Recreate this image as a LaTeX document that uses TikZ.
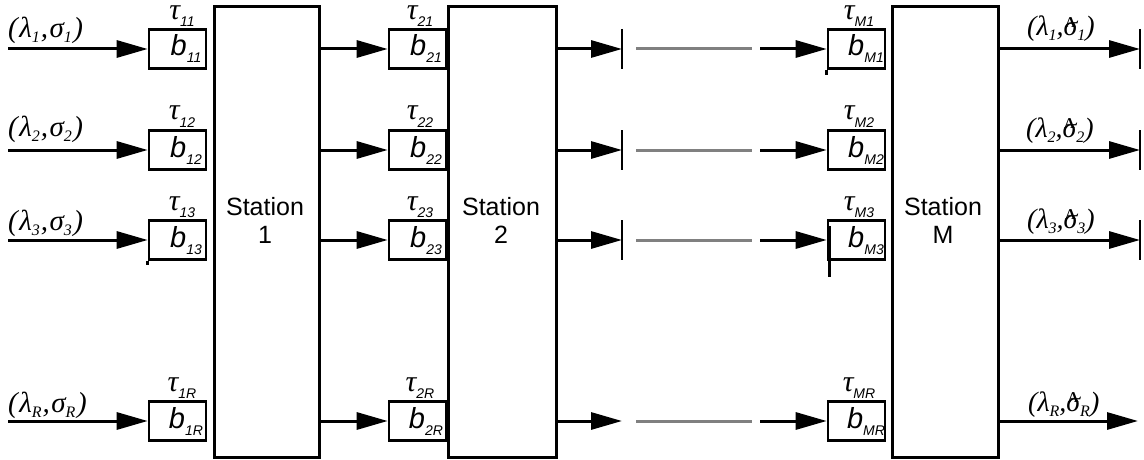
\documentclass[tikz,border=0pt]{standalone}
\usepackage{fontspec}
\setmainfont{Liberation Sans}
\newfontfamily\gr{Liberation Serif}
\usetikzlibrary{arrows.meta}
\newcommand{\bsub}[1]{{\fontsize{29}{29}\selectfont\itshape b}\raisebox{-7pt}{\fontsize{14}{14}\selectfont\itshape #1}}
\newcommand{\tsub}[1]{\raisebox{0pt}[14pt][0pt]{{\gr\fontsize{30}{30}\selectfont\itshape τ}\raisebox{-7pt}{\fontsize{14}{14}\selectfont\itshape #1}}}
\newcommand{\gsub}[1]{\raisebox{-5pt}{\fontsize{16}{16}\selectfont #1}}
\newcommand{\sigA}{\ooalign{σ\cr\hidewidth\raisebox{0.3em}{\fontsize{15}{15}\selectfont\upshape\bfseries A}\hidewidth\cr}}
\newcommand{\inlab}[2]{{\gr\itshape\fontsize{29}{29}\selectfont (\kern1.5ptλ\gsub{#1}\kern1pt,\kern1.5ptσ\gsub{#2}\kern1.5pt)}}
\newcommand{\outlab}[2]{{\gr\itshape\fontsize{28}{28}\selectfont (λ\gsub{#1},\sigA\gsub{#2})}}
\tikzset{
  arr/.style={line width=3pt,-{Triangle[length=31pt,width=17pt]}},
  barline/.style={line width=2.6pt},
  grayline/.style={line width=3pt,draw={rgb,255:red,128;green,128;blue,128}},
  stationbox/.style={draw,line width=2.6pt,minimum height=451pt,inner sep=0pt,anchor=north west},
  buf/.style={draw,line width=2.6pt,minimum width=57pt,minimum height=39pt,inner sep=0pt},
  lab/.style={anchor=base west,inner sep=0pt},
  tlab/.style={anchor=base,inner sep=0pt},
  stext/.style={align=center,font=\fontsize{25}{28}\selectfont,inner sep=0pt},
}
\begin{document}
\begin{tikzpicture}[x=1pt,y=-1pt]
\useasboundingbox (0,0) rectangle (1144,460);
% stations
\node[stationbox,minimum width=105pt] (S1) at (213,5) {};
\node[stationbox,minimum width=108pt] (S2) at (447,5) {};
\node[stationbox,minimum width=106pt] (SM) at (891,5) {};
\node[stext] (S1t) at (265,220) {Station\\1};
\node[stext] (S2t) at (501,220) {Station\\2};
\node[stext] (SMt) at (943,220) {Station\\M};
% buffers
\foreach \r/\y in {1/49,2/150,3/240,R/421}{
  \node[buf] (b1\r) at (177.5,\y) {};
  \node[buf] (b2\r) at (417.5,\y) {};
  \node[buf] (bM\r) at (856.5,\y) {};
}
% buffer texts
\foreach \r/\y/\t in {1/49/-29,2/150/-30,3/240/-30,R/421/-30}{
  \node[tlab] (tb1\r) at (186,\y+7) {\bsub{1\r}};
  \node[tlab] (tb2\r) at (426,\y+7) {\bsub{2\r}};
  \node[tlab] (tbM\r) at (866,\y+7) {\bsub{M\r}};
  \node[tlab] (tt1\r) at (182,\y+\t) {\tsub{1\r}};
  \node[tlab] (tt2\r) at (420,\y+\t) {\tsub{2\r}};
  \node[tlab] (ttM\r) at (859,\y+\t) {\tsub{M\r}};
}
% input labels
\node[lab] (in1) at (8,38) {\inlab{1}{1}};
\node[lab] (in2) at (8,136) {\inlab{2}{2}};
\node[lab] (in3) at (8,230) {\inlab{3}{3}};
\node[lab] (inR) at (8,412) {\inlab{R}{R}};
% output labels
\node[lab] (ou1) at (1027,36) {\outlab{1}{1}};
\node[lab] (ou2) at (1026,137) {\outlab{2}{2}};
\node[lab] (ou3) at (1027,228) {\outlab{3}{3}};
\node[lab] (ouR) at (1028,411) {\outlab{R}{R}};
% connectors
\foreach \r/\y in {1/49,2/150,3/240,R/421}{
  \coordinate (i\r) at (8,\y);
  \coordinate (m\r) at (622,\y);
  \coordinate (ga\r) at (636,\y);
  \coordinate (gb\r) at (752,\y);
  \coordinate (k\r) at (760,\y);
  \draw[arr] (i\r) -- (b1\r.west);
  \draw[arr] (S1.east |- b2\r.west) -- (b2\r.west);
  \draw[arr] (S2.east |- m\r) -- (m\r);
  \draw[grayline] (ga\r) -- (gb\r);
  \draw[arr] (k\r) -- (bM\r.west);
}
\foreach \r/\y in {1/49,2/150,3/240}{
  \coordinate (o\r) at (1140,\y);
  \draw[arr] (SM.east |- o\r) -- (o\r);
  \draw[barline] (m\r) ++(0,-20) -- ++(0,40);
  \draw[barline] (o\r) ++(0,-20) -- ++(0,40);
}
\coordinate (oR) at (1138,421);
\draw[arr] (SM.east |- oR) -- (oR);
% small edge artefacts
\draw[barline] (b13.south west) -- ++(0,4);
\draw[barline] (bM1.south west) -- ++(0,5);
\draw[barline] ([xshift=3pt]bM3.north west) ++(0,7) -- ++(0,51);
\end{tikzpicture}
\end{document}
